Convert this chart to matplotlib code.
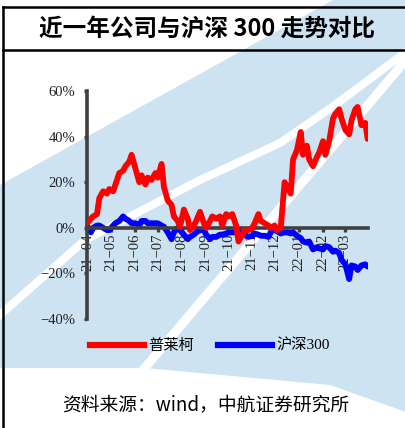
import pandas as pd
import matplotlib
matplotlib.use("Agg")
import matplotlib.pyplot as plt
import matplotlib.dates as mdates
from matplotlib.patches import Polygon
from matplotlib.lines import Line2D

plt.rcParams['font.family'] = ['Noto Sans CJK SC', 'DejaVu Sans']

########
# Data #
########
title = "近一年公司与沪深 300 走势对比"
source = "资料来源：wind，中航证券研究所"
names = ["普莱柯", "沪深300"]
yticks = [-40, -20, 0, 20, 40, 60]

# cumulative return (%), one point every 3 trading days from 2021-03-31
pulaike = [2, 4, 5, 6, 13, 16, 15, 17, 16, 19,
           24, 25, 27, 29, 32, 26, 20, 23, 19, 22,
           21, 24, 22, 28, 18, 12, 10, 5, 3, 0.5,
           8, 4, -1, 1, 3, 7, 2, 0, 3, 5,
           4, 5, 1, 6, 5, 6, 1, -6, -3, -1,
           -1, 0, 2, 6, 3, 2, 1, 0, 1, -1,
           0, 20, 18, 15, 30, 34, 42, 32, 36, 30,
           27, 31, 33, 38, 32, 38, 48, 50, 52, 48,
           43, 41, 47, 52, 53, 45, 46, 39]
hs300 = [1, -2, 0, 1, 1, 0, -1, -1, 1, 2,
         3, 5, 4, 3, 2, 2, 1, 3, 3, 2,
         2, 2, 2, 1, 0.5, -2, -5, -2, 0, -1,
         -3, -5, -4, -3, -2, -1, -1, -3, -5, -4,
         -4, -3, -3, -2.5, -2, -2, -2, -1.5, -2.5, -3,
         -4, -3.5, -2.5, -3, -3.5, -3.5, -4, -2, 0, -1.5,
         -2.5, -2, -2, -2.5, -2, -3.5, -4.5, -6, -6.5, -6,
         -9.5, -8.5, -9, -9.5, -8, -8.5, -10.5, -10, -11, -14,
         -16, -22.5, -16.5, -17, -18.5, -16.5, -16, -17]

dates = pd.bdate_range("2021-03-31", periods=len(pulaike), freq="3B")

W, H = 406, 428
def fx(x):
    return x / W
def fy(y):
    return 1 - y / H

fig = plt.figure(figsize=(W / 100, H / 100), dpi=100)
fig.patch.set_facecolor("white")

##############
# Background #
##############
blue_bg = "#cde3f1"
area = [(0, 185), (333, 0), (406, 0), (406, 412), (330, 385), (145, 368), (0, 368)]
fig.patches.append(Polygon([(fx(x), fy(y)) for x, y in area], closed=True,
                           transform=fig.transFigure, facecolor=blue_bg,
                           edgecolor="none", zorder=-2))
stripe1 = [(0, 315), (85, 240), (200, 180), (280, 143), (335, 105), (406, 52), (470, 0)]
stripe2 = [(143, 370), (406, 60)]
for pts, w in [(stripe1, 8), (stripe2, 9)]:
    fig.add_artist(Line2D([fx(p[0]) for p in pts], [fy(p[1]) for p in pts],
                          transform=fig.transFigure, color="white",
                          lw=w * 0.72, zorder=-1.5))

# title box
box = dict(transform=fig.transFigure, color="black", lw=1.8, zorder=5)
fig.add_artist(Line2D([fx(3), 1], [fy(7), fy(7)], **box))
fig.add_artist(Line2D([fx(3), 1], [fy(50), fy(50)], **box))
fig.add_artist(Line2D([fx(3), fx(3)], [fy(7), 0], **box))
fig.text(fx(207), fy(29), title, ha="center", va="center",
         fontsize=17, fontweight="bold")

#########
# Chart #
#########
ax = fig.add_axes([fx(87), fy(319), (368 - 87) / W, (319 - 91) / H])
ax.patch.set_alpha(0)

l1, = ax.plot(dates, pulaike, color="#ff0000", lw=4.2, solid_joinstyle="round",
              solid_capstyle="round", zorder=3)
l2, = ax.plot(dates, hs300, color="#0000ff", lw=4.2, solid_joinstyle="round",
              solid_capstyle="round", zorder=2)

ax.set_ylim(-40, 60)
ax.set_xlim(pd.Timestamp("2021-03-31"), pd.Timestamp("2022-03-31 12:00"))

for s in ["top", "right"]:
    ax.spines[s].set_visible(False)
ax.spines["bottom"].set_position(("data", 0))
for s in ["left", "bottom"]:
    ax.spines[s].set_color("#404040")
    ax.spines[s].set_linewidth(2.6)

ax.set_yticks(yticks)
ax.set_yticklabels([f"{v}%".replace("-", "\u2212") for v in yticks],
                   fontfamily="Liberation Serif", fontsize=10.5, color="#222222")
ax.xaxis.set_major_locator(mdates.MonthLocator())
ax.xaxis.set_major_formatter(mdates.DateFormatter("%y\u2212%m"))
for lab in ax.get_xticklabels():
    lab.set_rotation(90)
    lab.set_fontfamily("Liberation Serif")
    lab.set_fontsize(10.5)
    lab.set_color("#222222")
ax.tick_params(axis="x", direction="out", length=3, width=2.4, color="#404040", pad=1)
ax.tick_params(axis="y", direction="out", length=2.5, width=2.4, color="#404040", pad=6)

##########
# Legend #
##########
leg_h = [Line2D([], [], color=l.get_color(), lw=4.5) for l in (l1, l2)]
fig.legend(leg_h, names, loc="center", bbox_to_anchor=(fx(210), fy(346)),
           ncol=2, frameon=False, handlelength=3.5, handletextpad=0.3,
           columnspacing=1.6,
           prop={"family": ["Liberation Serif", "Noto Sans CJK SC"], "size": 11})

fig.text(fx(206), fy(405), source, ha="center", va="center", fontsize=13.5)

fig.savefig("out.png", dpi=100)
